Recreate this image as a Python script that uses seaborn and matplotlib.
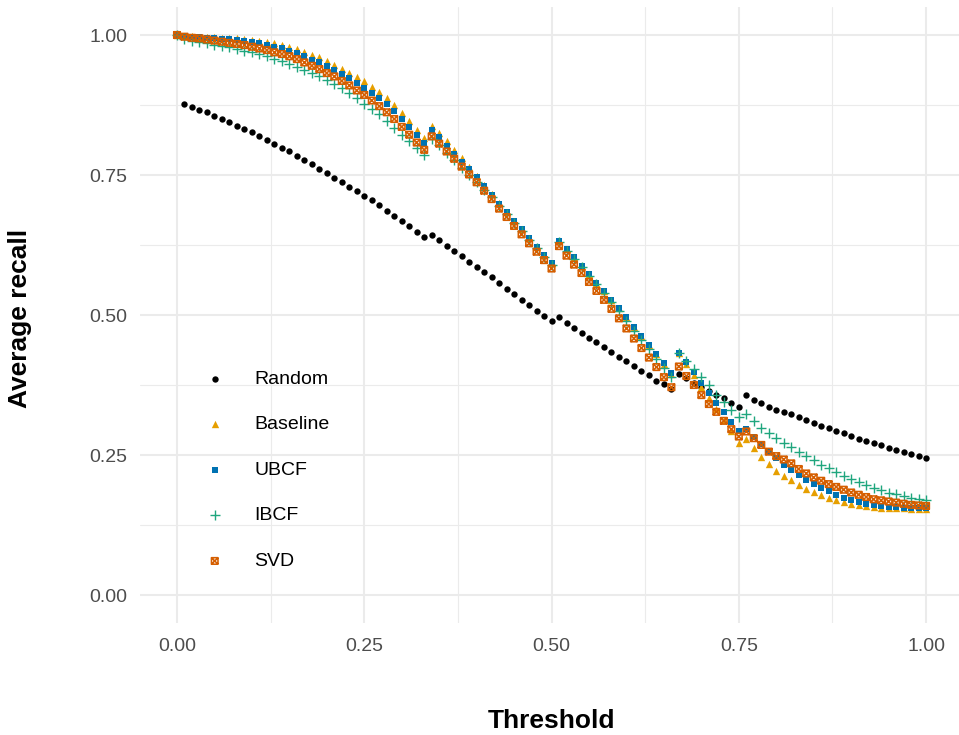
import matplotlib
matplotlib.use("Agg")
import matplotlib.pyplot as plt
import seaborn as sns
import pandas as pd
from matplotlib.path import Path

# ---------------- data ----------------
thresholds = [0.00, 0.01, 0.02, 0.03, 0.04, 0.05, 0.06, 0.07, 0.08, 0.09,
              0.10, 0.11, 0.12, 0.13, 0.14, 0.15, 0.16, 0.17, 0.18, 0.19,
              0.20, 0.21, 0.22, 0.23, 0.24, 0.25, 0.26, 0.27, 0.28, 0.29,
              0.30, 0.31, 0.32, 0.33, 0.34, 0.35, 0.36, 0.37, 0.38, 0.39,
              0.40, 0.41, 0.42, 0.43, 0.44, 0.45, 0.46, 0.47, 0.48, 0.49,
              0.50, 0.51, 0.52, 0.53, 0.54, 0.55, 0.56, 0.57, 0.58, 0.59,
              0.60, 0.61, 0.62, 0.63, 0.64, 0.65, 0.66, 0.67, 0.68, 0.69,
              0.70, 0.71, 0.72, 0.73, 0.74, 0.75, 0.76, 0.77, 0.78, 0.79,
              0.80, 0.81, 0.82, 0.83, 0.84, 0.85, 0.86, 0.87, 0.88, 0.89,
              0.90, 0.91, 0.92, 0.93, 0.94, 0.95, 0.96, 0.97, 0.98, 0.99,
              1.00]

random_thresholds = thresholds[1:]
random_recall = [0.877, 0.872, 0.866, 0.862, 0.856, 0.850, 0.845, 0.838, 0.832, 0.826,
                 0.820, 0.813, 0.806, 0.799, 0.792, 0.784, 0.776, 0.769, 0.761, 0.753,
                 0.745, 0.738, 0.729, 0.721, 0.712, 0.705, 0.696, 0.686, 0.677, 0.668,
                 0.659, 0.649, 0.640, 0.642, 0.634, 0.624, 0.615, 0.605, 0.595, 0.586,
                 0.576, 0.567, 0.557, 0.547, 0.538, 0.527, 0.518, 0.508, 0.498, 0.489,
                 0.496, 0.486, 0.477, 0.468, 0.459, 0.451, 0.442, 0.434, 0.425, 0.417,
                 0.409, 0.400, 0.392, 0.383, 0.376, 0.368, 0.394, 0.387, 0.379, 0.372,
                 0.365, 0.358, 0.351, 0.343, 0.336, 0.357, 0.349, 0.343, 0.336, 0.330,
                 0.327, 0.323, 0.318, 0.312, 0.307, 0.302, 0.298, 0.293, 0.289, 0.284,
                 0.279, 0.275, 0.271, 0.267, 0.263, 0.259, 0.255, 0.252, 0.249, 0.245]

baseline_recall = [1.000, 0.998, 0.998, 0.997, 0.997, 0.996, 0.995, 0.995, 0.994, 0.993,
                   0.991, 0.990, 0.988, 0.985, 0.983, 0.979, 0.975, 0.970, 0.965, 0.960,
                   0.953, 0.947, 0.940, 0.933, 0.925, 0.917, 0.908, 0.898, 0.887, 0.875,
                   0.861, 0.846, 0.831, 0.816, 0.838, 0.825, 0.810, 0.795, 0.780, 0.765,
                   0.749, 0.732, 0.716, 0.700, 0.684, 0.668, 0.653, 0.637, 0.622, 0.607,
                   0.592, 0.633, 0.618, 0.603, 0.588, 0.573, 0.558, 0.543, 0.527, 0.512,
                   0.496, 0.479, 0.463, 0.447, 0.430, 0.413, 0.395, 0.432, 0.413, 0.393,
                   0.372, 0.351, 0.332, 0.312, 0.292, 0.272, 0.278, 0.262, 0.247, 0.234,
                   0.222, 0.213, 0.205, 0.196, 0.190, 0.184, 0.178, 0.173, 0.169, 0.166,
                   0.163, 0.161, 0.159, 0.157, 0.156, 0.155, 0.155, 0.155, 0.154, 0.154,
                   0.154]

ubcf_recall = [1.000, 0.998, 0.997, 0.996, 0.995, 0.994, 0.993, 0.992, 0.991, 0.989,
               0.987, 0.985, 0.982, 0.979, 0.976, 0.972, 0.967, 0.962, 0.956, 0.951,
               0.944, 0.937, 0.930, 0.923, 0.915, 0.906, 0.897, 0.887, 0.877, 0.865,
               0.850, 0.835, 0.821, 0.808, 0.830, 0.817, 0.802, 0.787, 0.774, 0.760,
               0.746, 0.730, 0.715, 0.699, 0.684, 0.668, 0.653, 0.637, 0.622, 0.607,
               0.592, 0.633, 0.618, 0.603, 0.588, 0.573, 0.558, 0.543, 0.527, 0.512,
               0.496, 0.479, 0.463, 0.447, 0.430, 0.414, 0.396, 0.433, 0.416, 0.398,
               0.379, 0.361, 0.343, 0.326, 0.309, 0.292, 0.296, 0.283, 0.269, 0.256,
               0.244, 0.233, 0.223, 0.214, 0.205, 0.198, 0.191, 0.185, 0.179, 0.174,
               0.170, 0.166, 0.163, 0.161, 0.159, 0.158, 0.157, 0.156, 0.155, 0.155,
               0.155]

ibcf_recall = [1.000, 0.993, 0.990, 0.988, 0.985, 0.983, 0.980, 0.978, 0.975, 0.972,
               0.969, 0.966, 0.962, 0.958, 0.954, 0.949, 0.943, 0.938, 0.932, 0.926,
               0.920, 0.912, 0.905, 0.897, 0.888, 0.877, 0.868, 0.859, 0.846, 0.834,
               0.822, 0.810, 0.798, 0.785, 0.815, 0.804, 0.790, 0.777, 0.763, 0.750,
               0.738, 0.724, 0.710, 0.695, 0.681, 0.665, 0.650, 0.634, 0.619, 0.604,
               0.589, 0.630, 0.615, 0.600, 0.585, 0.570, 0.555, 0.539, 0.523, 0.507,
               0.490, 0.472, 0.455, 0.440, 0.422, 0.406, 0.389, 0.433, 0.418, 0.404,
               0.390, 0.375, 0.358, 0.345, 0.330, 0.317, 0.324, 0.311, 0.299, 0.289,
               0.280, 0.272, 0.265, 0.256, 0.248, 0.241, 0.233, 0.226, 0.219, 0.213,
               0.207, 0.201, 0.196, 0.191, 0.187, 0.183, 0.180, 0.177, 0.174, 0.172,
               0.170]

svd_recall = [1.000, 0.997, 0.995, 0.994, 0.992, 0.990, 0.988, 0.986, 0.984, 0.982,
              0.979, 0.976, 0.973, 0.969, 0.966, 0.962, 0.957, 0.951, 0.945, 0.939,
              0.932, 0.926, 0.918, 0.910, 0.901, 0.893, 0.883, 0.873, 0.862, 0.850,
              0.836, 0.822, 0.808, 0.795, 0.819, 0.806, 0.792, 0.779, 0.765, 0.751,
              0.737, 0.722, 0.707, 0.690, 0.675, 0.659, 0.644, 0.628, 0.613, 0.598,
              0.583, 0.623, 0.606, 0.590, 0.575, 0.559, 0.543, 0.527, 0.511, 0.494,
              0.476, 0.458, 0.441, 0.424, 0.407, 0.389, 0.371, 0.408, 0.391, 0.375,
              0.357, 0.341, 0.327, 0.311, 0.296, 0.283, 0.292, 0.280, 0.268, 0.256,
              0.248, 0.242, 0.235, 0.225, 0.217, 0.210, 0.204, 0.198, 0.193, 0.188,
              0.183, 0.179, 0.175, 0.171, 0.169, 0.167, 0.165, 0.163, 0.161, 0.160,
              0.159]

series_names = ["Random", "Baseline", "UBCF", "IBCF", "SVD"]

frames = [
    pd.DataFrame({"threshold": random_thresholds, "recall": random_recall, "method": "Random"}),
    pd.DataFrame({"threshold": thresholds, "recall": baseline_recall, "method": "Baseline"}),
    pd.DataFrame({"threshold": thresholds, "recall": ubcf_recall, "method": "UBCF"}),
    pd.DataFrame({"threshold": thresholds, "recall": ibcf_recall, "method": "IBCF"}),
    pd.DataFrame({"threshold": thresholds, "recall": svd_recall, "method": "SVD"}),
]
df = pd.concat(frames, ignore_index=True)

# ---------------- style ----------------
sns.set_theme(style="white")
plt.rcParams["font.family"] = ["Liberation Sans", "DejaVu Sans"]

# square with an X inside (ggplot shape 7)
box_x = Path(
    [(-1, -1), (1, -1), (1, 1), (-1, 1), (-1, -1), (-1, -1), (1, 1), (-1, 1), (1, -1)],
    [Path.MOVETO, Path.LINETO, Path.LINETO, Path.LINETO, Path.CLOSEPOLY,
     Path.MOVETO, Path.LINETO, Path.MOVETO, Path.LINETO],
)

styles = {
    "Random":   dict(marker="o", color="#000000", s=21, linewidth=0),
    "Baseline": dict(marker="^", color="#E69F00", s=28, linewidth=0),
    "UBCF":     dict(marker="s", color="#0072B2", s=24, linewidth=0),
    "IBCF":     dict(marker="+", color="#1FA67E", s=42, linewidth=1.0),
    "SVD":      dict(marker=box_x, color="#D55E00", s=22, linewidth=1.15,
                     facecolor="none", edgecolor="#D55E00"),
}

W, H = 959, 735
fig = plt.figure(figsize=(W / 100, H / 100), dpi=100)
ax = fig.add_axes([139.55 / W, (H - 623) / H, 824 / W, 616 / H])

for name in series_names:
    sub = df[df["method"] == name]
    sns.scatterplot(data=sub, x="threshold", y="recall", ax=ax, label=name,
                    **styles[name])

ax.set_xlim(-0.05, 1.05)
ax.set_ylim(-0.05, 1.05)
ticks = [0.0, 0.25, 0.5, 0.75, 1.0]
tick_labels = ["0.00", "0.25", "0.50", "0.75", "1.00"]
ax.set_xticks(ticks)
ax.set_xticklabels(tick_labels)
ax.set_yticks(ticks)
ax.set_yticklabels(tick_labels)
ax.set_xticks([0.125, 0.375, 0.625, 0.875], minor=True)
ax.set_yticks([0.125, 0.375, 0.625, 0.875], minor=True)
ax.grid(True, which="major", color="#EBEBEB", linewidth=1.5)
ax.grid(True, which="minor", color="#EBEBEB", linewidth=0.8)
ax.set_axisbelow(True)
for sp in ax.spines.values():
    sp.set_visible(False)
ax.tick_params(axis="both", which="both", length=0, labelsize=14,
               labelcolor="#4D4D4D")
ax.tick_params(axis="x", pad=11)
ax.tick_params(axis="y", pad=9)

ax.set_xlabel("")
ax.set_ylabel("")
fig.text(551.5 / W, 1 - 721 / H, "Threshold", ha="center", va="center",
         fontsize=19, fontweight="bold", color="black")
fig.text(20 / W, 1 - 318 / H, "Average recall", ha="center", va="center",
         rotation=90, fontsize=19, fontweight="bold", color="black")

leg = ax.legend(loc="upper left", bbox_to_anchor=(205 / W, 1 - 370 / H),
                bbox_transform=fig.transFigure, frameon=False, fontsize=14,
                handlelength=1.0, handletextpad=1.55, labelspacing=1.44,
                borderpad=0, borderaxespad=0, markerscale=1.0)
for t in leg.get_texts():
    t.set_color("black")

fig.savefig("out.png", dpi=100, facecolor="white")
